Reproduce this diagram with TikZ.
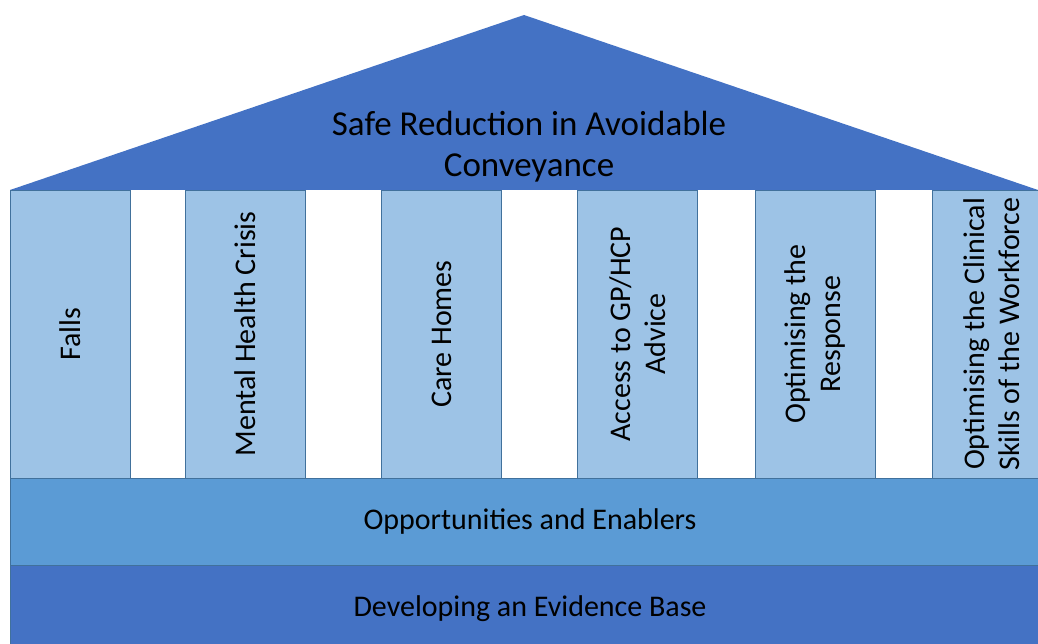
\documentclass[tikz,border=0pt]{standalone}
\usepackage{fontspec}
\setmainfont{Carlito}
\usetikzlibrary{positioning}
\definecolor{roofblue}{HTML}{4472C4}
\definecolor{pillarblue}{HTML}{9DC3E6}
\definecolor{bandblue}{HTML}{5B9BD5}
\definecolor{edgeblue}{HTML}{41719C}

\begin{document}
\begin{tikzpicture}[x=1pt,y=-1pt,node distance=0pt,outer sep=0pt,inner sep=2pt]
        \tikzset{pillar/.style={align=center,shape=rectangle,rotate=90,minimum width=288pt,minimum height=120pt,draw=edgeblue,line width=0.8pt,fill=pillarblue,font=\fontsize{30}{35}\selectfont}}
        \tikzset{band/.style={align=center,shape=rectangle,minimum width=1040pt,minimum height=87pt,draw=edgeblue,line width=0.8pt,font=\fontsize{30}{34}\selectfont}}
        \useasboundingbox (0,0) rectangle (1038,644);
        \clip (0,0) rectangle (1038,644);

        % roof
        \coordinate (eaveL) at (10,190);
        \coordinate (ridge) at (524,15);
        \coordinate (eaveR) at (1038,190);
        \fill[roofblue] (eaveL) -- (ridge) -- (eaveR) -- cycle;
        \node [align=center,font=\fontsize{35}{41}\selectfont] (aim) at (529,147) {Safe Reduction in Avoidable\\Conveyance};

        % pillars
        \node [pillar] (falls) at (70.5,334) {Falls};
        \node [pillar] (mental) at (245.5,334) {Mental Health Crisis};
        \node [pillar] (carehomes) at (441.5,334) {Care Homes};
        \node [pillar] (gpadvice) at (637.5,334) {Access to GP/HCP\\Advice};
        \node [pillar] (response) at (815,334) {Optimising the\\Response};
        \node [pillar] (workforce) at (992,334) {Optimising the Clinical\\Skills of the Workforce};

        % base
        \node [band,fill=bandblue,anchor=north west] (enablers) at (10,478) {Opportunities and Enablers};
        \node [band,fill=roofblue,below=of enablers] (evidence) {Developing an Evidence Base};
    \end{tikzpicture}
\end{document}
